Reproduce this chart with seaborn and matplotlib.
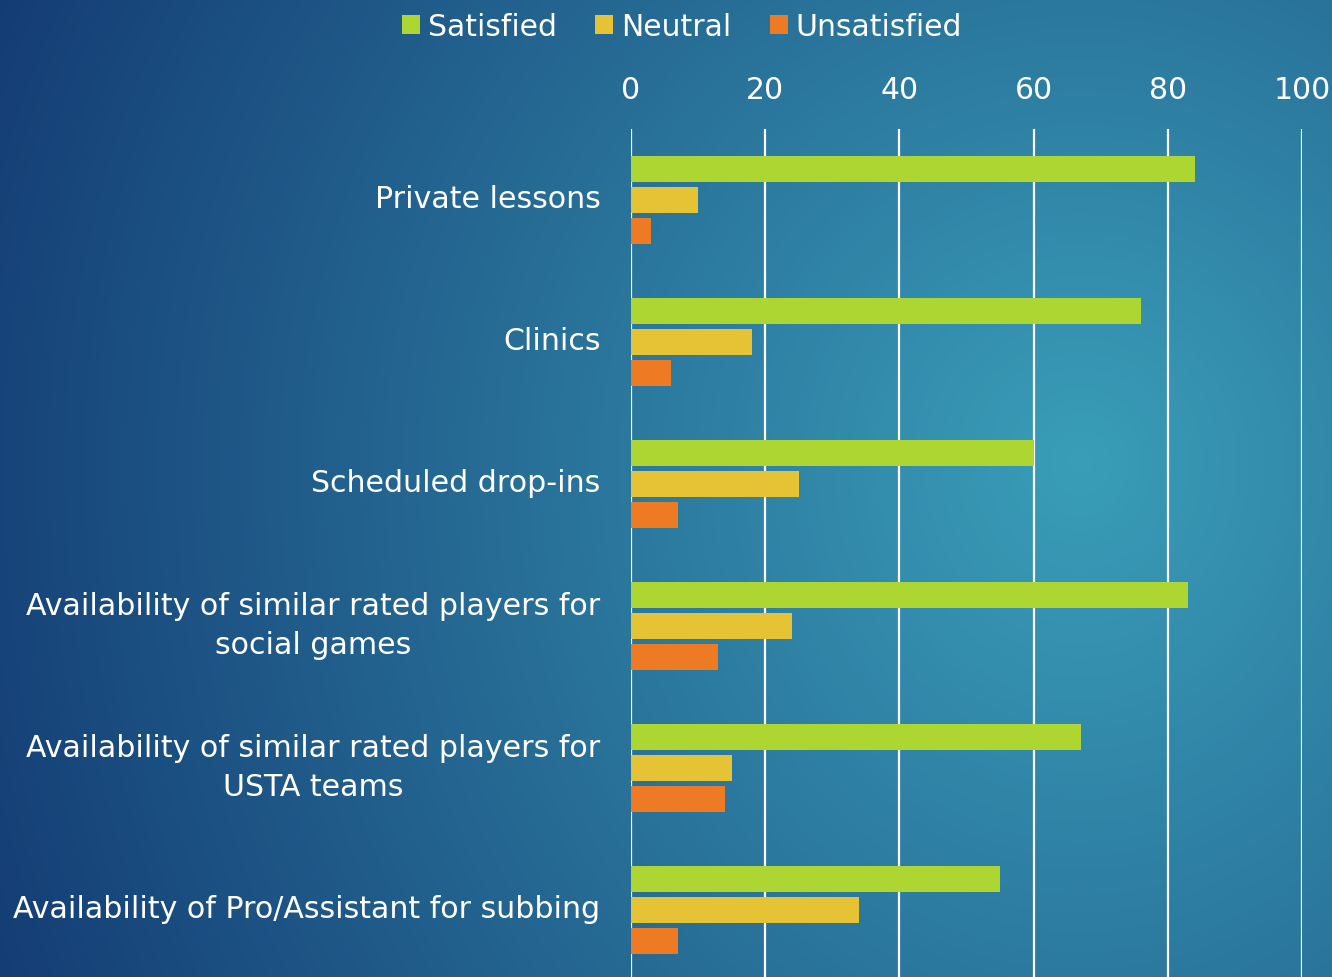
import numpy as np
import pandas as pd
import matplotlib
matplotlib.use("Agg")
import matplotlib.pyplot as plt
import seaborn as sns

categories = [
    "Private lessons",
    "Clinics",
    "Scheduled drop-ins",
    "Availability of similar rated players for\nsocial games",
    "Availability of similar rated players for\nUSTA teams",
    "Availability of Pro/Assistant for subbing",
]
satisfied = [84, 76, 60, 83, 67, 55]
neutral = [10, 18, 25, 24, 15, 34]
unsatisfied = [3, 6, 7, 13, 14, 7]
series_names = ["Satisfied", "Neutral", "Unsatisfied"]
series_colors = ["#ADD633", "#E6C235", "#EE7B24"]
x_ticks = [0, 20, 40, 60, 80, 100]

df = pd.DataFrame({"Category": categories, "Satisfied": satisfied,
                   "Neutral": neutral, "Unsatisfied": unsatisfied})
long = df.melt(id_vars="Category", var_name="Response", value_name="Value")

sns.set_theme(style="white")
plt.rcParams['font.family'] = ['DejaVu Sans']

W, H = 1332, 977
fig = plt.figure(figsize=(W / 100, H / 100), dpi=100)

# background radial gradient
yy, xx = np.mgrid[0:H, 0:W].astype(float)
cx, cy = 1080.0, 460.0
dy = yy - cy
dy = np.where(dy > 0, dy * 0.85, dy)
d = np.sqrt((xx - cx) ** 2 + dy ** 2)
t = np.clip(d / 1200.0, 0, 1)[..., None]
c0 = np.array([58, 158, 184]) / 255.0
c1 = np.array([19, 58, 115]) / 255.0
img = c0 * (1 - t) + c1 * t
bg = fig.add_axes([0, 0, 1, 1], zorder=-10)
bg.imshow(img, aspect="auto", extent=[0, W, H, 0])
bg.set_axis_off()

ax = fig.add_axes([631 / W, -4 / H, 671 / W, 852 / H])
ax.set_facecolor("none")
sns.barplot(data=long, y="Category", x="Value", hue="Response",
            hue_order=series_names, palette=series_colors, orient="h",
            width=0.655, gap=0.145, linewidth=0, saturation=1, ax=ax, zorder=3)

ax.set_xlim(0, 100)
ax.set_ylim(5.5, -0.5)
ax.set_xticks(x_ticks)
ax.xaxis.tick_top()
ax.set_xlabel("")
ax.set_ylabel("")
ax.grid(axis="x", color="white", linewidth=1.6, zorder=1)
ax.grid(axis="y", visible=False)
ax.set_axisbelow(True)
for s in ax.spines.values():
    s.set_visible(False)
ax.tick_params(axis="x", length=0, pad=17.5, labelsize=21.5, labelcolor="white")
ax.tick_params(axis="y", length=0, pad=22, labelsize=21.6, labelcolor="white")
for lbl in ax.get_yticklabels():
    lbl.set_multialignment("center")
    lbl.set_linespacing(1.4)
    lbl.set_verticalalignment("center")

handles, labels = ax.get_legend_handles_labels()
ax.legend_.remove()
fig.legend(handles, labels, loc="center", bbox_to_anchor=(682 / W, 1 - 27 / H),
           ncol=3, frameon=False, fontsize=21.5, labelcolor="white",
           handlelength=0.6, handleheight=0.6, handletextpad=0.25,
           columnspacing=1.3, borderaxespad=0)

fig.savefig("out.png", dpi=100)
